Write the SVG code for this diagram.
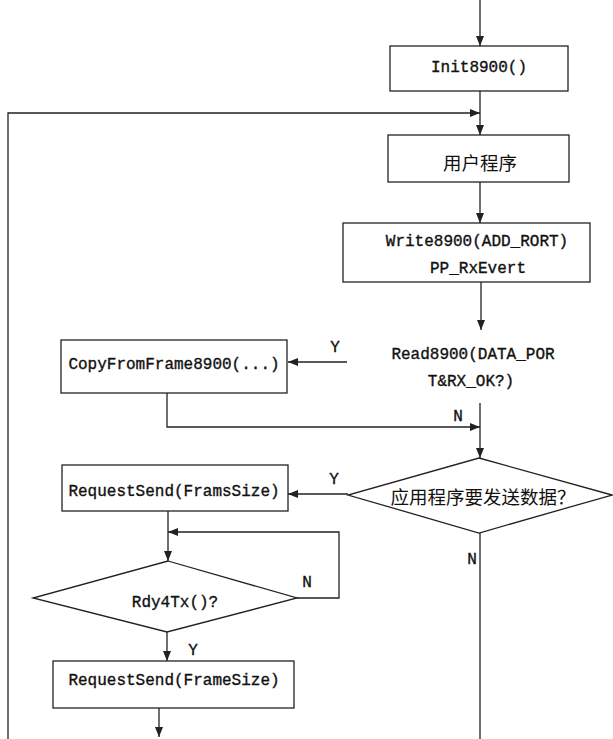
<svg xmlns="http://www.w3.org/2000/svg" width="613" height="739" viewBox="0 0 613 739">
  <style>
    .box { fill: #fff; stroke: #222; stroke-width: 1.3; }
    .ln { fill: none; stroke: #222; stroke-width: 1.3; }
    .t { font-family: "Liberation Mono", "DejaVu Sans Mono", monospace; font-size: 16px; fill: #111; stroke: #111; stroke-width: 0.35; text-anchor: middle; dominant-baseline: central; }
    .cn { font-family: "Noto Sans CJK SC", "Noto Sans", sans-serif; font-size: 18.5px; fill: #111; text-anchor: middle; dominant-baseline: central; }
    .lbl { font-family: "Liberation Mono", "DejaVu Sans Mono", monospace; font-size: 16px; fill: #111; stroke: #111; stroke-width: 0.35; text-anchor: middle; dominant-baseline: central; }
  </style>
  <defs>
    <marker id="arr" viewBox="0 0 10 8" refX="10" refY="4" markerWidth="10" markerHeight="8" markerUnits="userSpaceOnUse" orient="auto">
      <path d="M0,0 L10,4 L0,8 Z" fill="#222"/>
    </marker>
  </defs>
  <rect width="613" height="739" fill="#fff"/>

  <g id="connectors">
    <!-- entry into init -->
    <line class="ln" x1="480" y1="0" x2="480" y2="46" marker-end="url(#arr)"/>
    <!-- init to user program -->
    <line class="ln" x1="480" y1="91" x2="480" y2="135" marker-end="url(#arr)"/>
    <!-- outer return loop -->
    <polyline class="ln" points="8,739 8,113 480,113" marker-end="url(#arr)"/>
    <!-- user program to write -->
    <line class="ln" x1="480" y1="182" x2="480" y2="223" marker-end="url(#arr)"/>
    <!-- write to read -->
    <line class="ln" x1="481" y1="282" x2="481" y2="330" marker-end="url(#arr)"/>
    <!-- read Y branch to copy -->
    <line class="ln" x1="347" y1="362" x2="288" y2="362" marker-end="url(#arr)"/>
    <!-- read N branch downward -->
    <line class="ln" x1="480" y1="403" x2="480" y2="458" marker-end="url(#arr)"/>
    <!-- copy back to main line -->
    <polyline class="ln" points="167,393 167,427 480,427" marker-end="url(#arr)"/>
    <!-- send decision Y branch -->
    <line class="ln" x1="348" y1="494" x2="288" y2="494" marker-end="url(#arr)"/>
    <!-- send decision N branch -->
    <line class="ln" x1="480" y1="533" x2="480" y2="739"/>
    <!-- request send to ready test -->
    <line class="ln" x1="168" y1="511" x2="168" y2="561" marker-end="url(#arr)"/>
    <!-- ready test N loop -->
    <polyline class="ln" points="297,598 339,598 339,532 168,532" marker-end="url(#arr)"/>
    <!-- ready test Y to final send -->
    <line class="ln" x1="167" y1="632" x2="167" y2="661" marker-end="url(#arr)"/>
    <!-- exit -->
    <line class="ln" x1="159" y1="708" x2="159" y2="737" marker-end="url(#arr)"/>

    <text class="lbl" x="335" y="348">Y</text>
    <text class="lbl" x="458" y="417">N</text>
    <text class="lbl" x="334" y="480">Y</text>
    <text class="lbl" x="472" y="560">N</text>
    <text class="lbl" x="307" y="583">N</text>
    <text class="lbl" x="193" y="651">Y</text>
  </g>

  <g id="init">
    <rect class="box" x="390" y="46" width="178" height="45"/>
    <text class="t" x="479" y="68">Init8900()</text>
  </g>

  <g id="user-program">
    <rect class="box" x="388" y="135" width="181" height="47"/>
    <text class="cn" x="480" y="162">用户程序</text>
  </g>

  <g id="write">
    <rect class="box" x="343" y="223" width="247" height="59"/>
    <text class="t" x="477" y="242">Write8900(ADD_RORT)</text>
    <text class="t" x="478" y="269">PP_RxEvert</text>
  </g>

  <g id="read">
    <text class="t" x="473" y="355">Read8900(DATA_POR</text>
    <text class="t" x="471" y="382">T&amp;RX_OK?)</text>
  </g>

  <g id="copy">
    <rect class="box" x="61" y="340" width="226" height="53"/>
    <text class="t" x="174" y="365">CopyFromFrame8900(...)</text>
  </g>

  <g id="send-decision">
    <polygon class="box" points="479,458 612,495 479,533 348,495"/>
    <text class="cn" x="483" y="496">应用程序要发送数据？</text>
  </g>

  <g id="request-frams">
    <rect class="box" x="62" y="465" width="226" height="46"/>
    <text class="t" x="174" y="492">RequestSend(FramsSize)</text>
  </g>

  <g id="ready">
    <polygon class="box" points="168,561 297,598 167,632 33,598"/>
    <text class="t" x="175" y="603">Rdy4Tx()?</text>
  </g>

  <g id="request-frame">
    <rect class="box" x="53" y="661" width="241" height="47"/>
    <text class="t" x="174" y="681">RequestSend(FrameSize)</text>
  </g>
</svg>
